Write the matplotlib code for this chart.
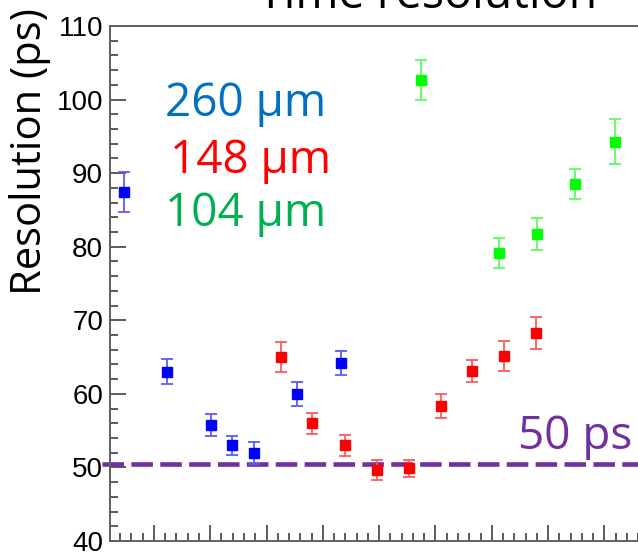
import matplotlib
matplotlib.use("Agg")
import matplotlib.pyplot as plt
from matplotlib.ticker import MultipleLocator, NullFormatter

# data (x in arbitrary units, 10 per major tick)
blue_x = [-5.3, 2.3, 10.1, 13.9, 17.7, 25.4, 33.2]
blue_y = [87.4, 63.0, 55.8, 53.0, 51.9, 60.0, 64.2]
blue_err = [2.7, 1.7, 1.5, 1.3, 1.5, 1.6, 1.6]

red_x = [22.6, 28.1, 34.0, 39.6, 45.3, 50.9, 56.5, 62.1, 67.8]
red_y = [65.0, 56.0, 53.0, 49.65, 49.9, 58.35, 63.15, 65.15, 68.25]
red_err = [2.0, 1.45, 1.4, 1.3, 1.15, 1.6, 1.5, 2.0, 2.2]

green_x = [47.5, 61.2, 68.0, 74.8, 81.8]
green_y = [102.65, 79.15, 81.75, 88.5, 94.3]
green_err = [2.7, 2.0, 2.2, 2.05, 3.0]

ref_level = 50.4

W, H = 638, 556
fig = plt.figure(figsize=(W / 100, H / 100), dpi=100)
# axes runs off the right edge like the cropped original
ax = fig.add_axes([110 / W, 15 / H, 607 / W, 515 / H])
ax.set_xlim(-7.8, 100)
ax.set_ylim(40, 110)

series = [
    (blue_x, blue_y, blue_err, "#0000ff", "#5a5aff"),
    (red_x, red_y, red_err, "#ff0000", "#ff5a5a"),
    (green_x, green_y, green_err, "#00ff00", "#5aff5a"),
]
for xs, ys, es, c, ec in series:
    ax.errorbar(xs, ys, yerr=es, fmt="s", color=c, ms=7.5, ecolor=ec,
                elinewidth=1.3, capsize=4, capthick=1.3, zorder=3)

# 50 ps reference line (starts a bit left of the axis)
ax.plot([-9.2, 100], [ref_level, ref_level], ls=(0, (4.7, 1.6)), color="#7030a0",
        lw=3.3, clip_on=False, zorder=2)

for s in ax.spines.values():
    s.set_color("#606060")
    s.set_linewidth(1.4)

ax.yaxis.set_major_locator(MultipleLocator(10))
ax.yaxis.set_minor_locator(MultipleLocator(2))
ax.xaxis.set_major_locator(MultipleLocator(10))
ax.xaxis.set_minor_locator(MultipleLocator(2))
ax.xaxis.set_major_formatter(NullFormatter())
ax.tick_params(which="both", direction="in", color="#404040", width=1.2)
ax.tick_params(which="major", length=11.5)
ax.tick_params(which="minor", length=5.5)
ax.tick_params(axis="y", labelsize=20, pad=5)
for lab in ax.get_yticklabels():
    lab.set_fontfamily("Liberation Sans")

# y title sits high, as in the original slide
fig.text(51 / W, 1 - 152 / H, "Resolution (ps)", fontsize=30, family="Open Sans",
         rotation=90, rotation_mode="anchor", ha="center", va="bottom")

fig.text(428 / W, 1 - 8 / H, "Time resolution", fontsize=33.5, family="Open Sans",
         ha="center", va="baseline")

txt = dict(fontsize=33, family="Open Sans", va="baseline")
fig.text(165 / W, 1 - 116 / H, "260 µm", color="#0070c0", **txt)
fig.text(170 / W, 1 - 173 / H, "148 µm", color="#ff0000", **txt)
fig.text(165 / W, 1 - 226 / H, "104 µm", color="#00b050", **txt)
fig.text(518 / W, 1 - 449 / H, "50 ps", color="#7030a0", **txt)

fig.savefig("out.png", dpi=100)
